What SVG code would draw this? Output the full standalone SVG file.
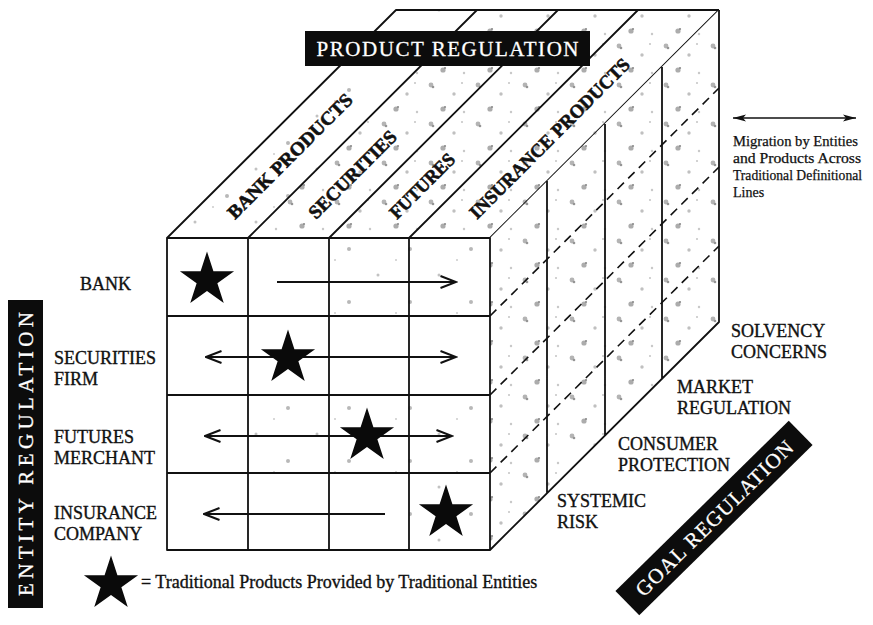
<svg xmlns="http://www.w3.org/2000/svg" width="873" height="625" viewBox="0 0 873 625">
  <defs>
    <style>
      .edge { fill: none; stroke: #111; stroke-width: 1.8; stroke-linejoin: round; }
      .dash { fill: none; stroke: #111; stroke-width: 1.6; stroke-dasharray: 9 6; }
      .lbl { font-family: "Liberation Serif", "Times New Roman", serif; font-size: 18px; fill: #111; stroke: #111; stroke-width: 0.35; }
      .col { font-family: "Liberation Serif", "Times New Roman", serif; font-size: 19px; font-weight: bold; fill: #111; stroke: #111; stroke-width: 0.6; }
      .band { fill: #0c0c0c; }
      .bandtxt { font-family: "Liberation Serif", "Times New Roman", serif; font-size: 21px; fill: #fff; stroke: #fff; stroke-width: 0.3; }
      .note { font-family: "Liberation Serif", "Times New Roman", serif; font-size: 14px; fill: #111; stroke: #111; stroke-width: 0.25; }
      .flow { fill: none; stroke: #111; stroke-width: 2; }
      .star { fill: #0a0a0a; }
    </style>
    <!-- light speckle used on the stippled faces -->
    <pattern id="speckle" width="47" height="39" patternUnits="userSpaceOnUse">
      <rect width="47" height="39" fill="#fff"/>
      <circle cx="8" cy="7" r="2.4" fill="#b4b4b4"/>
      <circle cx="10" cy="9" r="1.3" fill="#959595"/>
      <circle cx="31" cy="16" r="1.7" fill="#c0c0c0"/>
      <circle cx="20" cy="31" r="2.6" fill="#acacac"/>
      <circle cx="22" cy="29" r="1.1" fill="#8a8a8a"/>
      <circle cx="41" cy="34" r="1.2" fill="#c8c8c8"/>
      <circle cx="39" cy="5" r="1" fill="#c4c4c4"/>
    </pattern>
    <pattern id="speckleLight" width="61" height="53" patternUnits="userSpaceOnUse">
      <rect width="61" height="53" fill="#fff"/>
      <circle cx="12" cy="10" r="1.5" fill="#c2c2c2"/>
      <circle cx="44" cy="37" r="2" fill="#b8b8b8"/>
      <circle cx="30" cy="48" r="1" fill="#cbcbcb"/>
    </pattern>
    <marker id="chev" viewBox="0 0 18 14" refX="16.5" refY="7" markerWidth="18" markerHeight="14" markerUnits="userSpaceOnUse" orient="auto-start-reverse">
      <path d="M1,1 L16.5,7 L1,13" fill="none" stroke="#111" stroke-width="2"/>
    </marker>
    <marker id="tip" viewBox="0 0 14 10" refX="13" refY="5" markerWidth="14" markerHeight="10" markerUnits="userSpaceOnUse" orient="auto-start-reverse">
      <path d="M0,1.5 L13,5 L0,8.5 L3,5 Z" fill="#111"/>
    </marker>
    <polygon id="starShape" points="0,-28.5 6.41,-8.82 27.1,-8.8 10.37,3.37 16.75,23.06 0,10.9 -16.75,23.06 -10.37,3.37 -27.1,-8.8 -6.41,-8.82"/>
  </defs>

  <rect width="873" height="625" fill="#fff"/>

  <!-- top face: one strip per product line -->
  <g id="top-face">
    <polygon points="167,238 248,238 477,10 396,10" fill="url(#speckleLight)"/>
    <polygon points="248,238 329,238 558,10 477,10" fill="url(#speckle)"/>
    <polygon points="329,238 409,238 638,10 558,10" fill="url(#speckle)"/>
    <polygon points="409,238 490,238 719,10 638,10" fill="url(#speckle)"/>
    <path class="edge" d="M167,238 L396,10 L719,10 M248,238 L477,10 M329,238 L558,10 M409,238 L638,10 M490,238 L719,10"/>
  </g>

  <!-- right face: one slice per regulatory goal -->
  <g id="goal-face">
    <polygon points="490,238 719,10 719,322 490,550" fill="url(#speckle)"/>
    <path class="dash" d="M490,316 L719,88 M490,395 L719,167 M490,473 L719,246"/>
    <path class="edge" d="M547,181 V493 M605,124 V436 M662,67 V379 M719,10 V322 L490,550"/>
  </g>

  <!-- front face: entity rows by product columns -->
  <g id="front-face">
    <rect x="167" y="238" width="81" height="78" fill="#fff"/>
    <rect x="329" y="238" width="161" height="78" fill="url(#speckleLight)"/>
    <rect x="409" y="395" width="81" height="155" fill="url(#speckleLight)"/>
    <rect x="248" y="395" width="161" height="78" fill="url(#speckleLight)"/>
    <path class="edge" d="M167,238 H490 V550 H167 Z M248,238 V550 M329,238 V550 M409,238 V550 M167,316 H490 M167,395 H490 M167,473 H490"/>
  </g>

  <g id="product-labels">
    <text class="col" transform="translate(235,220) rotate(-45)" textLength="168" lengthAdjust="spacingAndGlyphs">BANK PRODUCTS</text>
    <text class="col" transform="translate(316,220) rotate(-45)" textLength="116" lengthAdjust="spacingAndGlyphs">SECURITIES</text>
    <text class="col" transform="translate(397,220) rotate(-45)" textLength="84" lengthAdjust="spacingAndGlyphs">FUTURES</text>
    <text class="col" transform="translate(477,220) rotate(-45)" textLength="218" lengthAdjust="spacingAndGlyphs">INSURANCE PRODUCTS</text>
  </g>

  <g id="product-regulation">
    <rect class="band" x="305" y="31" width="285" height="35"/>
    <text class="bandtxt" x="447.5" y="56" text-anchor="middle" textLength="262" lengthAdjust="spacing">PRODUCT REGULATION</text>
  </g>

  <g id="entity-regulation">
    <rect class="band" x="8" y="300" width="35" height="308"/>
    <text class="bandtxt" transform="translate(33,454) rotate(-90)" text-anchor="middle" textLength="284" lengthAdjust="spacing">ENTITY REGULATION</text>
  </g>

  <g id="goal-regulation">
    <rect class="band" x="-121.5" y="-17" width="243" height="34" transform="translate(714,518) rotate(-44.5)"/>
    <text class="bandtxt" transform="translate(714,518) rotate(-44.5)" x="0" y="7.5" text-anchor="middle" textLength="212" lengthAdjust="spacing">GOAL REGULATION</text>
  </g>

  <g id="entity-labels">
    <text class="lbl" x="80" y="290">BANK</text>
    <text class="lbl" x="54" y="364">SECURITIES</text>
    <text class="lbl" x="54" y="385">FIRM</text>
    <text class="lbl" x="54" y="443">FUTURES</text>
    <text class="lbl" x="54" y="464">MERCHANT</text>
    <text class="lbl" x="54" y="519">INSURANCE</text>
    <text class="lbl" x="54" y="540">COMPANY</text>
  </g>

  <g id="goal-labels">
    <text class="lbl" x="731" y="337">SOLVENCY</text>
    <text class="lbl" x="731" y="358">CONCERNS</text>
    <text class="lbl" x="677" y="393">MARKET</text>
    <text class="lbl" x="677" y="414">REGULATION</text>
    <text class="lbl" x="618" y="450">CONSUMER</text>
    <text class="lbl" x="618" y="471">PROTECTION</text>
    <text class="lbl" x="557" y="507">SYSTEMIC</text>
    <text class="lbl" x="557" y="528">RISK</text>
  </g>

  <!-- migration arrows across product columns -->
  <g id="connectors">
    <line class="flow" x1="277" y1="282" x2="456" y2="282" marker-end="url(#chev)"/>
    <line class="flow" x1="206" y1="357" x2="456" y2="357" marker-start="url(#chev)" marker-end="url(#chev)"/>
    <line class="flow" x1="205" y1="436" x2="452" y2="436" marker-start="url(#chev)" marker-end="url(#chev)"/>
    <line class="flow" x1="385" y1="514" x2="204" y2="514" marker-end="url(#chev)"/>
  </g>

  <g id="traditional-stars">
    <use href="#starShape" class="star" x="207" y="280"/>
    <use href="#starShape" class="star" x="288" y="358"/>
    <use href="#starShape" class="star" x="367" y="436"/>
    <use href="#starShape" class="star" x="446" y="513"/>
  </g>

  <g id="migration-key">
    <line x1="733" y1="118" x2="856" y2="118" stroke="#111" stroke-width="1.6" marker-start="url(#tip)" marker-end="url(#tip)"/>
    <text class="note" x="733" y="146" textLength="125" lengthAdjust="spacingAndGlyphs">Migration by Entities</text>
    <text class="note" x="733" y="163" textLength="128" lengthAdjust="spacingAndGlyphs">and Products Across</text>
    <text class="note" x="733" y="180" textLength="129" lengthAdjust="spacingAndGlyphs">Traditional Definitional</text>
    <text class="note" x="733" y="197">Lines</text>
  </g>

  <g id="star-key">
    <use href="#starShape" class="star" x="111" y="584"/>
    <text class="lbl" x="141" y="588">= Traditional Products Provided by Traditional Entities</text>
  </g>
</svg>
